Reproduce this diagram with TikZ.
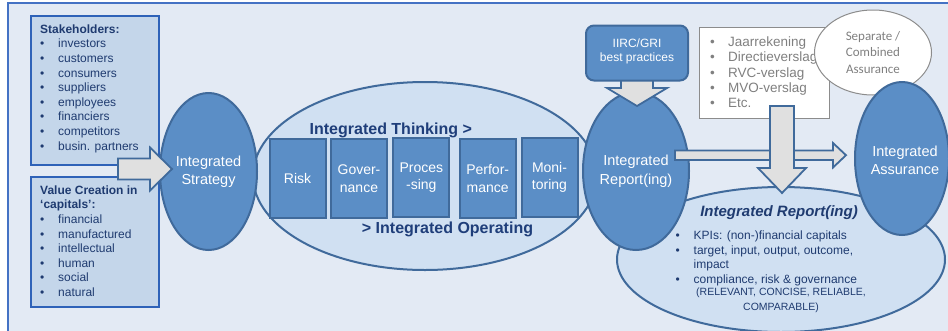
\documentclass[tikz,border=0pt]{standalone}
\usepackage{fontspec}
\setmainfont{Liberation Sans}
\newfontfamily\carlito{Carlito}
\usetikzlibrary{shapes.geometric}
\definecolor{bgc}{RGB}{227,234,244}
\definecolor{framec}{RGB}{68,114,196}
\definecolor{lboxfill}{RGB}{196,214,234}
\definecolor{lboxdraw}{RGB}{46,98,184}
\definecolor{navy}{RGB}{31,59,112}
\definecolor{dfill}{RGB}{91,142,198}
\definecolor{dborder}{RGB}{64,106,155}
\definecolor{lfill}{RGB}{208,224,242}
\definecolor{agray}{RGB}{224,224,224}
\definecolor{gtext}{RGB}{128,128,128}
\definecolor{gborder}{RGB}{140,140,140}
\definecolor{bluetxt}{RGB}{31,62,122}
\newcommand\fs[2]{\fontsize{#1}{#2}\selectfont}
\newcommand\bul{\makebox[18pt][l]{\textbullet}}
\tikzset{
 lbox/.style={draw=lboxdraw, fill=lboxfill, line width=1.5pt, inner sep=0, anchor=north west},
 ltext/.style={text=navy, font=\fs{12}{14.6}, align=left, inner sep=0, anchor=north west},
 dell/.style={ellipse, draw=dborder, fill=dfill, line width=2pt, inner sep=0, text=white, font=\fs{14.5}{18.5}, align=center},
 lell/.style={ellipse, draw=dborder, fill=lfill, line width=2pt, inner sep=0},
 pbox/.style={draw=dborder, fill=dfill, line width=2pt, minimum width=56, minimum height=79, inner sep=0, text=white, font=\fs{14}{17.5}, align=center},
 barrow/.style={draw=dborder, fill=agray, line width=1.8pt, line join=miter},
 btext/.style={text=bluetxt, font=\bfseries\fs{16}{19}, inner sep=0, anchor=base},
 gbox/.style={draw=gborder, fill=white, line width=1pt, inner sep=0, anchor=north west},
 wtext/.style={text=white, inner sep=0, align=center},
}
\begin{document}
\begin{tikzpicture}[x=1pt,y=-1pt]
\useasboundingbox (0,0) rectangle (948,330);
\fill[bgc] (8,3) rectangle (960,340);
\draw[framec, line width=2pt] (8,340) -- (8,3) -- (960,3);
% left boxes
\node[lbox, minimum width=128, minimum height=149] (stake) at (30,15) {};
\node[ltext] (staket) at (40,24.3) {\textbf{Stakeholders:}\\\bul investors\\\bul customers\\\bul consumers\\\bul suppliers\\\bul employees\\\bul financiers\\\bul competitors\\\bul busin. partners};
\node[lbox, minimum width=128, minimum height=130] (value) at (30,176) {};
\node[ltext] (valuet) at (40,185.3) {\textbf{Value Creation in}\\\textbf{‘capitals’:}\\\bul financial\\\bul manufactured\\\bul intellectual\\\bul human\\\bul social\\\bul natural};
% middle
\node[lell, minimum width=344, minimum height=188] (think) at (425,176) {};
\node[dell, minimum width=97, minimum height=157] (strat) at (208.5,171.5) {Integrated\\Strategy};
\draw[barrow] (118,158.5) -- (150,158.5) -- (150,147.5) -- (172,169) -- (150,190.5) -- (150,179.5) -- (118,179.5) -- cycle;
\node[pbox] (risk) at (297.5,178) {Risk};
\node[pbox] (gov) at (359,178.5) {Gover-\\nance};
\node[pbox] (proc) at (421.3,177.5) {Proces\\-sing};
\node[pbox] (perf) at (487.7,178.5) {Perfor-\\mance};
\node[pbox] (mon) at (549.5,177.5) {Moni-\\toring};
\node[btext] (ithink) at (390.8,134) {Integrated Thinking >};
\node[btext] (iop) at (447.5,233.3) {> Integrated Operating};
% bottom ellipse
\node[lell, minimum width=328, minimum height=145] (irep) at (781,259.5) {};
\node[text=navy, font=\bfseries\itshape\fs{15}{18}, inner sep=0, anchor=base] (irept) at (779,216) {Integrated Report(ing)};
\node[ltext] (irepl) at (675.5,230.7) {\bul KPIs: (non-)financial capitals\\\bul target, input, output, outcome,\\\hspace*{18pt}impact\\\bul compliance, risk \& governance};
\node[text=navy, font=\fs{10.5}{14.3}, inner sep=0, align=center, anchor=north] (irepc) at (781,288.1) {(RELEVANT, CONCISE, RELIABLE,\\COMPARABLE)};
% report ellipse
\node[dell, minimum width=106, minimum height=158] (rep) at (636,171) {Integrated\\Report(ing)};
\draw[barrow] (621,79) -- (621,88) -- (607,88) -- (637,106) -- (667,88) -- (653,88) -- (653,79) -- cycle;
\node[draw=dborder, fill=dfill, line width=2pt, rounded corners=8pt, minimum width=102, minimum height=55, inner sep=0] (iirc) at (637,53) {};
\node[wtext, font=\fs{12}{14}] (iirct) at (637,51) {IIRC/GRI\\best practices};
% gray list
\node[gbox, minimum width=130, minimum height=91] (gl) at (699,27) {};
\node[ltext, text=gtext, font=\fs{13.5}{15.3}] (glt) at (710,36.6) {\bul Jaarrekening\\\bul Directieverslag\\\bul RVC-verslag\\\bul MVO-verslag\\\bul Etc.};
\node[ellipse, draw=gborder, fill=white, line width=1pt, minimum width=117, minimum height=85, inner sep=0, text=gtext, font=\carlito\fs{13}{16.5}, align=center] (sep) at (873,52.5) {Separate /\\Combined\\Assurance};
% assurance
\node[dell, minimum width=94, minimum height=153] (ass) at (902,158.5) {};
\node[wtext, font=\fs{14.5}{18}] (asst) at (905,160) {Integrated\\Assurance};
% arrows
\draw[barrow] (675,150.5) -- (833,150.5) -- (833,143) -- (846,155.2) -- (833,167.5) -- (833,160) -- (675,160) -- cycle;
\draw[barrow] (770,106) -- (770,168) -- (758,168) -- (782,193) -- (806,168) -- (794,168) -- (794,106) -- cycle;
\end{tikzpicture}
\end{document}
